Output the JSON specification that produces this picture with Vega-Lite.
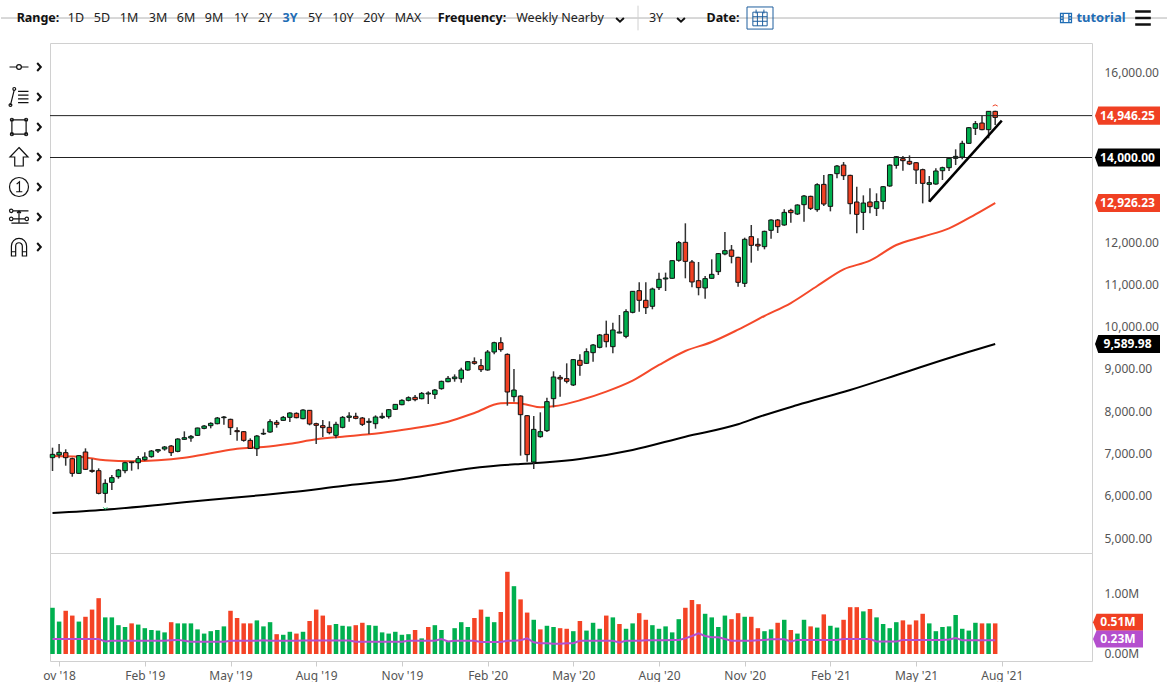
{
"$schema":"https://vega.github.io/schema/vega-lite/v6.json",
"background":"white",
"padding":{"left":0,"top":3,"right":0,"bottom":0},
"bounds":"flush",
"spacing":0,
"config":{"font":"Noto Sans","view":{"stroke":"#d0d0d0"},"axis":{"grid":false,"domain":false,"ticks":false,"title":null,"labelColor":"#555555","labelFontSize":12}},
"datasets":{
"candles":[
{"date":"2018-10-29","open":6904,"high":7140,"low":6588,"close":6982,"volume":0.77,"volumeDir":"up","volumeMa":0.25},
{"date":"2018-11-05","open":6967,"high":7227,"low":6888,"close":7030,"volume":0.54,"volumeDir":"up","volumeMa":0.25},
{"date":"2018-11-12","open":7022,"high":7101,"low":6714,"close":6904,"volume":0.72,"volumeDir":"down","volumeMa":0.25},
{"date":"2018-11-19","open":6880,"high":6904,"low":6454,"close":6533,"volume":0.64,"volumeDir":"down","volumeMa":0.25},
{"date":"2018-11-26","open":6533,"high":6967,"low":6517,"close":6951,"volume":0.54,"volumeDir":"up","volumeMa":0.25},
{"date":"2018-12-03","open":7038,"high":7124,"low":6612,"close":6628,"volume":0.62,"volumeDir":"down","volumeMa":0.25},
{"date":"2018-12-10","open":6604,"high":6880,"low":6549,"close":6580,"volume":0.74,"volumeDir":"down","volumeMa":0.25},
{"date":"2018-12-17","open":6596,"high":6651,"low":6037,"close":6060,"volume":0.93,"volumeDir":"down","volumeMa":0.25},
{"date":"2018-12-24","open":6060,"high":6391,"low":5840,"close":6297,"volume":0.61,"volumeDir":"up","volumeMa":0.21},
{"date":"2018-12-31","open":6320,"high":6494,"low":6139,"close":6431,"volume":0.61,"volumeDir":"up","volumeMa":0.22},
{"date":"2019-01-07","open":6454,"high":6636,"low":6407,"close":6612,"volume":0.48,"volumeDir":"up","volumeMa":0.22},
{"date":"2019-01-14","open":6596,"high":6809,"low":6533,"close":6785,"volume":0.45,"volumeDir":"up","volumeMa":0.22},
{"date":"2019-01-21","open":6785,"high":6809,"low":6596,"close":6801,"volume":0.51,"volumeDir":"down","volumeMa":0.22},
{"date":"2019-01-28","open":6785,"high":6943,"low":6628,"close":6880,"volume":0.49,"volumeDir":"up","volumeMa":0.22},
{"date":"2019-02-04","open":6856,"high":7030,"low":6833,"close":6919,"volume":0.43,"volumeDir":"up","volumeMa":0.22},
{"date":"2019-02-11","open":6927,"high":7085,"low":6904,"close":7061,"volume":0.40,"volumeDir":"up","volumeMa":0.22},
{"date":"2019-02-18","open":7061,"high":7108,"low":7014,"close":7093,"volume":0.39,"volumeDir":"up","volumeMa":0.22},
{"date":"2019-02-25","open":7108,"high":7179,"low":7069,"close":7156,"volume":0.36,"volumeDir":"up","volumeMa":0.22},
{"date":"2019-03-04","open":7179,"high":7203,"low":6943,"close":7022,"volume":0.53,"volumeDir":"down","volumeMa":0.23},
{"date":"2019-03-11","open":7053,"high":7361,"low":7030,"close":7345,"volume":0.51,"volumeDir":"up","volumeMa":0.235},
{"date":"2019-03-18","open":7337,"high":7526,"low":7321,"close":7376,"volume":0.51,"volumeDir":"up","volumeMa":0.22},
{"date":"2019-03-25","open":7368,"high":7440,"low":7282,"close":7408,"volume":0.51,"volumeDir":"up","volumeMa":0.205},
{"date":"2019-04-01","open":7431,"high":7613,"low":7416,"close":7605,"volume":0.41,"volumeDir":"up","volumeMa":0.205},
{"date":"2019-04-08","open":7597,"high":7676,"low":7574,"close":7652,"volume":0.34,"volumeDir":"up","volumeMa":0.205},
{"date":"2019-04-15","open":7660,"high":7739,"low":7597,"close":7715,"volume":0.38,"volumeDir":"up","volumeMa":0.205},
{"date":"2019-04-22","open":7707,"high":7865,"low":7692,"close":7841,"volume":0.40,"volumeDir":"up","volumeMa":0.205},
{"date":"2019-04-29","open":7849,"high":7888,"low":7684,"close":7865,"volume":0.46,"volumeDir":"up","volumeMa":0.205},
{"date":"2019-05-06","open":7810,"high":7825,"low":7439,"close":7613,"volume":0.72,"volumeDir":"down","volumeMa":0.22},
{"date":"2019-05-13","open":7542,"high":7621,"low":7305,"close":7518,"volume":0.60,"volumeDir":"down","volumeMa":0.22},
{"date":"2019-05-20","open":7518,"high":7534,"low":7282,"close":7313,"volume":0.51,"volumeDir":"down","volumeMa":0.22},
{"date":"2019-05-27","open":7313,"high":7361,"low":7108,"close":7124,"volume":0.51,"volumeDir":"down","volumeMa":0.22},
{"date":"2019-06-03","open":7116,"high":7440,"low":6943,"close":7416,"volume":0.56,"volumeDir":"up","volumeMa":0.22},
{"date":"2019-06-10","open":7463,"high":7589,"low":7440,"close":7479,"volume":0.46,"volumeDir":"up","volumeMa":0.23},
{"date":"2019-06-17","open":7510,"high":7810,"low":7495,"close":7755,"volume":0.53,"volumeDir":"up","volumeMa":0.22},
{"date":"2019-06-24","open":7739,"high":7794,"low":7613,"close":7692,"volume":0.33,"volumeDir":"down","volumeMa":0.22},
{"date":"2019-07-01","open":7786,"high":7888,"low":7778,"close":7857,"volume":0.32,"volumeDir":"up","volumeMa":0.22},
{"date":"2019-07-08","open":7857,"high":7975,"low":7747,"close":7960,"volume":0.37,"volumeDir":"up","volumeMa":0.22},
{"date":"2019-07-15","open":7952,"high":7975,"low":7834,"close":7849,"volume":0.34,"volumeDir":"down","volumeMa":0.22},
{"date":"2019-07-22","open":7825,"high":8046,"low":7810,"close":8030,"volume":0.37,"volumeDir":"up","volumeMa":0.225},
{"date":"2019-07-29","open":8023,"high":8030,"low":7668,"close":7700,"volume":0.55,"volumeDir":"down","volumeMa":0.225},
{"date":"2019-08-05","open":7707,"high":7731,"low":7227,"close":7668,"volume":0.74,"volumeDir":"down","volumeMa":0.225},
{"date":"2019-08-12","open":7660,"high":7794,"low":7392,"close":7613,"volume":0.64,"volumeDir":"down","volumeMa":0.225},
{"date":"2019-08-19","open":7621,"high":7763,"low":7455,"close":7495,"volume":0.48,"volumeDir":"down","volumeMa":0.225},
{"date":"2019-08-26","open":7431,"high":7755,"low":7361,"close":7692,"volume":0.50,"volumeDir":"up","volumeMa":0.225},
{"date":"2019-09-02","open":7621,"high":7888,"low":7597,"close":7857,"volume":0.47,"volumeDir":"up","volumeMa":0.225},
{"date":"2019-09-09","open":7857,"high":7975,"low":7755,"close":7888,"volume":0.46,"volumeDir":"up","volumeMa":0.225},
{"date":"2019-09-16","open":7881,"high":7967,"low":7810,"close":7834,"volume":0.48,"volumeDir":"down","volumeMa":0.205},
{"date":"2019-09-23","open":7841,"high":7865,"low":7652,"close":7692,"volume":0.52,"volumeDir":"down","volumeMa":0.205},
{"date":"2019-09-30","open":7739,"high":7833,"low":7463,"close":7763,"volume":0.48,"volumeDir":"up","volumeMa":0.205},
{"date":"2019-10-07","open":7707,"high":7904,"low":7589,"close":7865,"volume":0.47,"volumeDir":"up","volumeMa":0.205},
{"date":"2019-10-14","open":7849,"high":7967,"low":7818,"close":7881,"volume":0.36,"volumeDir":"up","volumeMa":0.205},
{"date":"2019-10-21","open":7873,"high":8054,"low":7826,"close":8038,"volume":0.34,"volumeDir":"up","volumeMa":0.205},
{"date":"2019-10-28","open":8046,"high":8172,"low":8030,"close":8164,"volume":0.37,"volumeDir":"up","volumeMa":0.205},
{"date":"2019-11-04","open":8156,"high":8283,"low":8141,"close":8259,"volume":0.32,"volumeDir":"up","volumeMa":0.205},
{"date":"2019-11-11","open":8259,"high":8354,"low":8235,"close":8322,"volume":0.33,"volumeDir":"up","volumeMa":0.22},
{"date":"2019-11-18","open":8330,"high":8385,"low":8235,"close":8275,"volume":0.40,"volumeDir":"down","volumeMa":0.22},
{"date":"2019-11-25","open":8298,"high":8456,"low":8283,"close":8424,"volume":0.26,"volumeDir":"up","volumeMa":0.22},
{"date":"2019-12-02","open":8409,"high":8472,"low":8172,"close":8432,"volume":0.45,"volumeDir":"down","volumeMa":0.22},
{"date":"2019-12-09","open":8401,"high":8527,"low":8290,"close":8503,"volume":0.48,"volumeDir":"up","volumeMa":0.22},
{"date":"2019-12-16","open":8535,"high":8724,"low":8511,"close":8708,"volume":0.40,"volumeDir":"up","volumeMa":0.25},
{"date":"2019-12-23","open":8700,"high":8834,"low":8684,"close":8779,"volume":0.21,"volumeDir":"up","volumeMa":0.21},
{"date":"2019-12-30","open":8771,"high":8873,"low":8700,"close":8810,"volume":0.43,"volumeDir":"up","volumeMa":0.22},
{"date":"2020-01-06","open":8771,"high":9031,"low":8677,"close":8976,"volume":0.53,"volumeDir":"up","volumeMa":0.22},
{"date":"2020-01-13","open":8976,"high":9189,"low":8960,"close":9173,"volume":0.45,"volumeDir":"up","volumeMa":0.22},
{"date":"2020-01-20","open":9173,"high":9275,"low":9102,"close":9134,"volume":0.60,"volumeDir":"down","volumeMa":0.22},
{"date":"2020-01-27","open":9079,"high":9236,"low":8929,"close":8984,"volume":0.74,"volumeDir":"down","volumeMa":0.2},
{"date":"2020-02-03","open":8976,"high":9449,"low":8960,"close":9402,"volume":0.62,"volumeDir":"up","volumeMa":0.2},
{"date":"2020-02-10","open":9402,"high":9646,"low":9346,"close":9622,"volume":0.53,"volumeDir":"up","volumeMa":0.2},
{"date":"2020-02-17","open":9622,"high":9748,"low":9410,"close":9457,"volume":0.70,"volumeDir":"down","volumeMa":0.2},
{"date":"2020-02-24","open":9346,"high":9370,"low":8133,"close":8456,"volume":1.37,"volumeDir":"down","volumeMa":0.22},
{"date":"2020-03-02","open":8346,"high":8999,"low":8228,"close":8503,"volume":1.13,"volumeDir":"up","volumeMa":0.22},
{"date":"2020-03-09","open":8361,"high":8377,"low":6951,"close":7920,"volume":0.91,"volumeDir":"down","volumeMa":0.23},
{"date":"2020-03-16","open":7896,"high":7912,"low":6809,"close":6975,"volume":0.69,"volumeDir":"down","volumeMa":0.26},
{"date":"2020-03-23","open":6801,"high":7888,"low":6636,"close":7573,"volume":0.57,"volumeDir":"up","volumeMa":0.195},
{"date":"2020-03-30","open":7400,"high":7975,"low":7376,"close":7518,"volume":0.41,"volumeDir":"down","volumeMa":0.18},
{"date":"2020-04-06","open":7542,"high":8322,"low":7510,"close":8228,"volume":0.47,"volumeDir":"up","volumeMa":0.18},
{"date":"2020-04-13","open":8299,"high":8945,"low":8094,"close":8811,"volume":0.45,"volumeDir":"up","volumeMa":0.17},
{"date":"2020-04-20","open":8803,"high":8858,"low":8346,"close":8764,"volume":0.43,"volumeDir":"down","volumeMa":0.17},
{"date":"2020-04-27","open":8772,"high":9134,"low":8661,"close":8709,"volume":0.42,"volumeDir":"down","volumeMa":0.18},
{"date":"2020-05-04","open":8622,"high":9237,"low":8598,"close":9221,"volume":0.38,"volumeDir":"up","volumeMa":0.18},
{"date":"2020-05-11","open":9205,"high":9347,"low":8843,"close":9087,"volume":0.55,"volumeDir":"down","volumeMa":0.22},
{"date":"2020-05-18","open":9134,"high":9489,"low":9118,"close":9410,"volume":0.39,"volumeDir":"up","volumeMa":0.22},
{"date":"2020-05-25","open":9386,"high":9591,"low":9174,"close":9568,"volume":0.52,"volumeDir":"up","volumeMa":0.22},
{"date":"2020-06-01","open":9512,"high":9828,"low":9489,"close":9804,"volume":0.42,"volumeDir":"up","volumeMa":0.22},
{"date":"2020-06-08","open":9820,"high":10143,"low":9512,"close":9646,"volume":0.64,"volumeDir":"down","volumeMa":0.22},
{"date":"2020-06-15","open":9528,"high":10096,"low":9371,"close":9922,"volume":0.61,"volumeDir":"up","volumeMa":0.22},
{"date":"2020-06-22","open":9851,"high":10277,"low":9843,"close":9875,"volume":0.50,"volumeDir":"down","volumeMa":0.19},
{"date":"2020-06-29","open":9772,"high":10411,"low":9725,"close":10356,"volume":0.42,"volumeDir":"up","volumeMa":0.22},
{"date":"2020-07-06","open":10340,"high":10844,"low":10316,"close":10836,"volume":0.51,"volumeDir":"up","volumeMa":0.22},
{"date":"2020-07-13","open":10852,"high":11049,"low":10356,"close":10624,"volume":0.68,"volumeDir":"down","volumeMa":0.22},
{"date":"2020-07-20","open":10624,"high":11049,"low":10300,"close":10450,"volume":0.57,"volumeDir":"down","volumeMa":0.23},
{"date":"2020-07-27","open":10482,"high":10923,"low":10411,"close":10891,"volume":0.48,"volumeDir":"up","volumeMa":0.23},
{"date":"2020-08-03","open":10923,"high":11278,"low":10868,"close":11120,"volume":0.42,"volumeDir":"up","volumeMa":0.23},
{"date":"2020-08-10","open":11128,"high":11278,"low":10844,"close":11152,"volume":0.46,"volumeDir":"up","volumeMa":0.23},
{"date":"2020-08-17","open":11144,"high":11569,"low":11136,"close":11561,"volume":0.36,"volumeDir":"up","volumeMa":0.235},
{"date":"2020-08-24","open":11569,"high":12026,"low":11538,"close":11987,"volume":0.58,"volumeDir":"up","volumeMa":0.235},
{"date":"2020-08-31","open":11995,"high":12444,"low":11144,"close":11545,"volume":0.77,"volumeDir":"down","volumeMa":0.26},
{"date":"2020-09-07","open":11530,"high":11577,"low":10931,"close":11057,"volume":0.90,"volumeDir":"down","volumeMa":0.30},
{"date":"2020-09-14","open":11088,"high":11530,"low":10742,"close":10923,"volume":0.83,"volumeDir":"down","volumeMa":0.345},
{"date":"2020-09-21","open":10915,"high":11199,"low":10663,"close":11136,"volume":0.67,"volumeDir":"up","volumeMa":0.30},
{"date":"2020-09-28","open":11144,"high":11593,"low":11136,"close":11238,"volume":0.61,"volumeDir":"up","volumeMa":0.28},
{"date":"2020-10-05","open":11301,"high":11743,"low":11222,"close":11727,"volume":0.45,"volumeDir":"up","volumeMa":0.28},
{"date":"2020-10-12","open":11719,"high":12239,"low":11687,"close":11798,"volume":0.64,"volumeDir":"up","volumeMa":0.25},
{"date":"2020-10-19","open":11813,"high":11932,"low":11498,"close":11664,"volume":0.58,"volumeDir":"down","volumeMa":0.22},
{"date":"2020-10-26","open":11640,"high":11656,"low":10947,"close":11049,"volume":0.68,"volumeDir":"down","volumeMa":0.22},
{"date":"2020-11-02","open":11025,"high":12105,"low":10939,"close":12066,"volume":0.62,"volumeDir":"up","volumeMa":0.22},
{"date":"2020-11-09","open":12129,"high":12404,"low":11514,"close":11924,"volume":0.62,"volumeDir":"down","volumeMa":0.22},
{"date":"2020-11-16","open":11947,"high":12089,"low":11798,"close":11908,"volume":0.43,"volumeDir":"down","volumeMa":0.23},
{"date":"2020-11-23","open":11892,"high":12270,"low":11829,"close":12254,"volume":0.38,"volumeDir":"up","volumeMa":0.235},
{"date":"2020-11-30","open":12278,"high":12538,"low":12081,"close":12522,"volume":0.41,"volumeDir":"up","volumeMa":0.245},
{"date":"2020-12-07","open":12522,"high":12546,"low":12215,"close":12365,"volume":0.52,"volumeDir":"down","volumeMa":0.245},
{"date":"2020-12-14","open":12404,"high":12774,"low":12388,"close":12703,"volume":0.57,"volumeDir":"up","volumeMa":0.245},
{"date":"2020-12-21","open":12751,"high":12790,"low":12459,"close":12696,"volume":0.40,"volumeDir":"down","volumeMa":0.21},
{"date":"2020-12-28","open":12664,"high":12893,"low":12640,"close":12877,"volume":0.34,"volumeDir":"up","volumeMa":0.235},
{"date":"2021-01-04","open":12885,"high":13113,"low":12483,"close":13090,"volume":0.57,"volumeDir":"up","volumeMa":0.235},
{"date":"2021-01-11","open":13082,"high":13097,"low":12759,"close":12798,"volume":0.46,"volumeDir":"down","volumeMa":0.235},
{"date":"2021-01-18","open":12767,"high":13389,"low":12719,"close":13357,"volume":0.44,"volumeDir":"up","volumeMa":0.235},
{"date":"2021-01-25","open":13365,"high":13586,"low":12853,"close":12900,"volume":0.66,"volumeDir":"down","volumeMa":0.235},
{"date":"2021-02-01","open":12845,"high":13610,"low":12727,"close":13594,"volume":0.47,"volumeDir":"up","volumeMa":0.235},
{"date":"2021-02-08","open":13618,"high":13822,"low":13507,"close":13799,"volume":0.44,"volumeDir":"up","volumeMa":0.235},
{"date":"2021-02-15","open":13822,"high":13893,"low":13468,"close":13570,"volume":0.57,"volumeDir":"down","volumeMa":0.25},
{"date":"2021-02-22","open":13578,"high":13594,"low":12656,"close":12908,"volume":0.78,"volumeDir":"down","volumeMa":0.25},
{"date":"2021-03-01","open":12948,"high":13310,"low":12207,"close":12656,"volume":0.78,"volumeDir":"down","volumeMa":0.25},
{"date":"2021-03-08","open":12703,"high":13105,"low":12286,"close":12924,"volume":0.71,"volumeDir":"up","volumeMa":0.25},
{"date":"2021-03-15","open":12948,"high":13271,"low":12680,"close":12837,"volume":0.75,"volumeDir":"down","volumeMa":0.25},
{"date":"2021-03-22","open":12798,"high":13153,"low":12617,"close":12956,"volume":0.61,"volumeDir":"up","volumeMa":0.21},
{"date":"2021-03-29","open":12963,"high":13326,"low":12774,"close":13310,"volume":0.50,"volumeDir":"up","volumeMa":0.21},
{"date":"2021-04-05","open":13326,"high":13838,"low":13310,"close":13822,"volume":0.43,"volumeDir":"up","volumeMa":0.21},
{"date":"2021-04-12","open":13814,"high":14035,"low":13736,"close":14019,"volume":0.53,"volumeDir":"up","volumeMa":0.21},
{"date":"2021-04-19","open":13972,"high":14035,"low":13688,"close":13925,"volume":0.56,"volumeDir":"down","volumeMa":0.235},
{"date":"2021-04-26","open":13909,"high":14051,"low":13822,"close":13846,"volume":0.49,"volumeDir":"down","volumeMa":0.235},
{"date":"2021-05-03","open":13877,"high":13893,"low":13373,"close":13704,"volume":0.56,"volumeDir":"down","volumeMa":0.235},
{"date":"2021-05-10","open":13712,"high":13736,"low":12916,"close":13389,"volume":0.67,"volumeDir":"down","volumeMa":0.235},
{"date":"2021-05-17","open":13365,"high":13562,"low":12948,"close":13405,"volume":0.51,"volumeDir":"up","volumeMa":0.235},
{"date":"2021-05-24","open":13373,"high":13744,"low":13357,"close":13681,"volume":0.38,"volumeDir":"up","volumeMa":0.235},
{"date":"2021-05-31","open":13688,"high":13783,"low":13468,"close":13759,"volume":0.45,"volumeDir":"up","volumeMa":0.235},
{"date":"2021-06-07","open":13759,"high":14004,"low":13681,"close":13980,"volume":0.46,"volumeDir":"up","volumeMa":0.24},
{"date":"2021-06-14","open":13980,"high":14193,"low":13822,"close":14027,"volume":0.65,"volumeDir":"up","volumeMa":0.265},
{"date":"2021-06-21","open":14011,"high":14398,"low":13956,"close":14335,"volume":0.42,"volumeDir":"up","volumeMa":0.23},
{"date":"2021-06-28","open":14335,"high":14721,"low":14319,"close":14705,"volume":0.39,"volumeDir":"up","volumeMa":0.23},
{"date":"2021-07-05","open":14689,"high":14863,"low":14532,"close":14800,"volume":0.52,"volumeDir":"up","volumeMa":0.23},
{"date":"2021-07-12","open":14815,"high":14989,"low":14642,"close":14658,"volume":0.51,"volumeDir":"down","volumeMa":0.23},
{"date":"2021-07-19","open":14658,"high":15099,"low":14453,"close":15091,"volume":0.51,"volumeDir":"up","volumeMa":0.23},
{"date":"2021-07-26","open":15091,"high":15107,"low":14768,"close":14949,"volume":0.51,"volumeDir":"down","volumeMa":0.23}
],
"movingAverages":[
{"date":"2018-10-29","series":"short","value":6943},{"date":"2018-11-26","series":"short","value":6927},{"date":"2018-12-24","series":"short","value":6841},{"date":"2019-01-21","series":"short","value":6817},{"date":"2019-02-18","series":"short","value":6841},{"date":"2019-03-18","series":"short","value":6904},{"date":"2019-04-15","series":"short","value":7006},{"date":"2019-05-13","series":"short","value":7116},{"date":"2019-06-10","series":"short","value":7156},{"date":"2019-07-08","series":"short","value":7234},{"date":"2019-08-05","series":"short","value":7337},{"date":"2019-09-02","series":"short","value":7400},{"date":"2019-09-30","series":"short","value":7455},{"date":"2019-10-28","series":"short","value":7534},{"date":"2019-11-25","series":"short","value":7629},{"date":"2019-12-23","series":"short","value":7755},{"date":"2020-01-20","series":"short","value":7960},{"date":"2020-02-17","series":"short","value":8188},{"date":"2020-03-02","series":"short","value":8196},{"date":"2020-03-16","series":"short","value":8157},{"date":"2020-03-30","series":"short","value":8094},{"date":"2020-04-13","series":"short","value":8118},{"date":"2020-05-11","series":"short","value":8260},{"date":"2020-06-08","series":"short","value":8464},{"date":"2020-07-06","series":"short","value":8724},{"date":"2020-08-03","series":"short","value":9095},{"date":"2020-08-31","series":"short","value":9426},{"date":"2020-09-28","series":"short","value":9639},{"date":"2020-10-26","series":"short","value":9930},{"date":"2020-11-23","series":"short","value":10253},{"date":"2020-12-21","series":"short","value":10560},{"date":"2021-01-18","series":"short","value":10962},{"date":"2021-02-15","series":"short","value":11356},{"date":"2021-03-15","series":"short","value":11561},{"date":"2021-04-12","series":"short","value":11931},{"date":"2021-05-10","series":"short","value":12128},{"date":"2021-06-07","series":"short","value":12325},{"date":"2021-07-05","series":"short","value":12656},{"date":"2021-07-26","series":"short","value":12926},
{"date":"2018-10-29","series":"long","value":5596},{"date":"2018-12-24","series":"long","value":5674},{"date":"2019-02-18","series":"long","value":5785},{"date":"2019-04-15","series":"long","value":5911},{"date":"2019-06-10","series":"long","value":6021},{"date":"2019-07-08","series":"long","value":6084},{"date":"2019-09-02","series":"long","value":6234},{"date":"2019-11-04","series":"long","value":6391},{"date":"2019-12-30","series":"long","value":6596},{"date":"2020-02-17","series":"long","value":6722},{"date":"2020-03-09","series":"long","value":6754},{"date":"2020-04-06","series":"long","value":6794},{"date":"2020-05-11","series":"long","value":6873},{"date":"2020-07-06","series":"long","value":7085},{"date":"2020-08-31","series":"long","value":7400},{"date":"2020-10-26","series":"long","value":7692},{"date":"2020-11-16","series":"long","value":7858},{"date":"2020-12-28","series":"long","value":8149},{"date":"2021-02-22","series":"long","value":8504},{"date":"2021-04-19","series":"long","value":8906},{"date":"2021-06-07","series":"long","value":9260},{"date":"2021-07-26","series":"long","value":9590}
],
"priceTags":[
{"label":"14,946.25","price":14990,"series":"last"},
{"label":"14,000.00","price":14000,"series":"level"},
{"label":"12,926.23","price":12926,"series":"last"},
{"label":"9,589.98","price":9590,"series":"level"}
],
"volumeTags":[
{"label":"0.51M","volume":0.53,"series":"volume"},
{"label":"0.23M","volume":0.25,"series":"average"}
]
},
"vconcat":[
{
"width":1042,"height":510,
"resolve":{"scale":{"x":"independent","y":"independent","color":"independent"}},
"layer":[
{"layer":[
{"data":{"name":"movingAverages"},"mark":{"type":"line","strokeWidth":2,"interpolate":"monotone"},
"encoding":{
"x":{"field":"date","type":"temporal","scale":{"type":"utc","nice":false,"padding":0,"domain":["2018-10-26T08:00:00Z","2021-11-05T19:00:00Z"]},"axis":null},
"y":{"field":"value","type":"quantitative","scale":{"nice":false,"domain":[4650,16707]},"axis":{"orient":"right","values":[5000,6000,7000,8000,9000,10000,11000,12000,16000],"format":",.2f","labelAlign":"left","labelPadding":12}},
"color":{"field":"series","type":"nominal","scale":{"domain":["short","long"],"range":["#f4492a","#000000"]},"legend":null}}},
{"data":{"name":"candles"},"mark":{"type":"rule","color":"#333333","strokeWidth":1.5},
"encoding":{"x":{"field":"date","type":"temporal","axis":null},"y":{"field":"low","type":"quantitative"},"y2":{"field":"high"}}},
{"data":{"name":"candles"},"mark":{"type":"bar","size":4.5,"stroke":"#111111","strokeWidth":1},
"encoding":{"x":{"field":"date","type":"temporal","axis":null},"y":{"field":"open","type":"quantitative"},"y2":{"field":"close"},
"color":{"condition":{"test":"datum.close>=datum.open","value":"#00b04f"},"value":"#f04023"}}},
{"data":{"values":[{"level":14990},{"level":14000}]},"mark":{"type":"rule","color":"#222222","strokeWidth":1},
"encoding":{"y":{"field":"level","type":"quantitative"}}},
{"data":{"values":[{"date":"2021-05-17","price":12955},{"date":"2021-08-02","price":14870}]},"mark":{"type":"line","color":"#000000","strokeWidth":2.5},
"encoding":{"x":{"field":"date","type":"temporal","axis":null},"y":{"field":"price","type":"quantitative"}}},
{"data":{"values":[{"date":"2021-07-26","price":15240}]},"mark":{"type":"point","shape":"M-1,0.4 Q0,-0.6 1,0.4","size":25,"color":"#f04023","filled":false,"strokeWidth":1,"opacity":1},
"encoding":{"x":{"field":"date","type":"temporal","axis":null},"y":{"field":"price","type":"quantitative"}}},
{"data":{"values":[{"date":"2018-12-24","price":5706}]},"mark":{"type":"point","shape":"M-1,-0.5 L0,0.5 L1,-0.5","size":16,"color":"#00b04f","filled":false,"strokeWidth":1,"opacity":1},
"encoding":{"x":{"field":"date","type":"temporal","axis":null},"y":{"field":"price","type":"quantitative"}}}
]},
{"data":{"name":"priceTags"},
"encoding":{
"x":{"datum":0.5,"type":"quantitative","scale":{"domain":[0,1],"range":[1045,1110]},"axis":null},
"y":{"field":"price","type":"quantitative","scale":{"nice":false,"domain":[4650,16707]},"axis":null}},
"layer":[
{"mark":{"type":"point","filled":true,"opacity":1,"size":4225,"shape":"M-1,0 L-0.9,-0.277 L1,-0.277 L1,0.277 L-0.9,0.277 Z"},
"encoding":{"color":{"field":"series","type":"nominal","scale":{"domain":["last","level"],"range":["#f04023","#000000"]},"legend":null}}},
{"mark":{"type":"text","color":"white","fontWeight":"bold","fontSize":12},"encoding":{"text":{"field":"label"}}}
]},
{"encoding":{
"x":{"field":"order","type":"quantitative","axis":null,"scale":{"nice":false,"zero":false,
"domain":[-1,0,1,2,3,4,5,6,7,8,9,10,11,12,13,14,15,16,17,18,19,20,21,22,23,24,25],
"range":[-49,-12,26,52,79,108,136,164,191,215,240,265,293,324,358,422,510,570,588,606,631,673,710,1016,1051,1093,1117]}},
"y":{"datum":0.46,"type":"quantitative","axis":null,"scale":{"domain":[0,1],"range":[-42,-5]}}},
"layer":[
{"data":{"values":[{"edge":0,"order":-1,"end":25},{"edge":1,"order":-1,"end":25}]},"mark":{"type":"rule","color":"#cccccc","strokeWidth":1},
"encoding":{"y":{"field":"edge","type":"quantitative","axis":null},"x2":{"field":"end"}}},
{"data":{"values":[{"item":"Range:","order":0},{"item":"Frequency:","order":14},{"item":"Date:","order":20}]},"mark":{"type":"text","fontWeight":"bold","fontSize":12.5,"color":"#111111"},"encoding":{"text":{"field":"item"}}},
{"data":{"values":[{"item":"1D","order":1},{"item":"5D","order":2},{"item":"1M","order":3},{"item":"3M","order":4},{"item":"6M","order":5},{"item":"9M","order":6},{"item":"1Y","order":7},{"item":"2Y","order":8},{"item":"5Y","order":10},{"item":"10Y","order":11},{"item":"20Y","order":12},{"item":"MAX","order":13},{"item":"Weekly Nearby","order":15},{"item":"3Y","order":18}]},"mark":{"type":"text","fontSize":12.5,"color":"#222222"},"encoding":{"text":{"field":"item"}}},
{"data":{"values":[{"item":"3Y","order":9}]},"mark":{"type":"text","fontWeight":"bold","fontSize":12.5,"color":"#1f6db5"},"encoding":{"text":{"field":"item"}}},
{"data":{"values":[{"item":"tutorial","order":23}]},"mark":{"type":"text","fontWeight":"bold","fontSize":13,"color":"#1f6db5"},"encoding":{"text":{"field":"item"}}},
{"data":{"values":[{"order":16},{"order":19}]},"mark":{"type":"point","filled":false,"opacity":1,"color":"#111111","strokeWidth":2,"size":676,"shape":"M-0.3,0 L0,0.28 L0.3,0"}},
{"data":{"values":[{"order":17}]},"mark":{"type":"point","filled":false,"opacity":1,"color":"#d0d0d0","strokeWidth":1,"size":676,"shape":"M0,-0.95 V0.95"}},
{"data":{"values":[{"order":24}]},"mark":{"type":"point","filled":false,"opacity":1,"color":"#111111","strokeWidth":2.5,"size":676,"shape":"M-0.6,-0.5 H0.6 M-0.6,0 H0.6 M-0.6,0.5 H0.6"}},
{"data":{"values":[{"order":21}]},"mark":{"type":"point","filled":false,"opacity":1,"color":"#1f5f9e","strokeWidth":1,"size":676,"shape":"M-1,-0.85 H1 V0.85 H-1 Z M-0.55,-0.45 H0.55 V0.6 H-0.55 Z M-0.55,-0.1 H0.55 M-0.55,0.25 H0.55 M-0.2,-0.45 V0.6 M0.2,-0.45 V0.6 M-0.3,-0.65 V-0.35 M0.3,-0.65 V-0.35"}},
{"data":{"values":[{"order":22}]},"mark":{"type":"point","filled":false,"opacity":1,"color":"#1f6db5","strokeWidth":1.3,"size":676,"shape":"M-0.42,-0.36 H0.42 V0.36 H-0.42 Z M-0.22,-0.36 V0.36 M0.22,-0.36 V0.36 M-0.42,-0.1 H-0.22 M-0.42,0.1 H-0.22 M0.22,-0.1 H0.42 M0.22,0.1 H0.42"}}
]},
{"data":{"values":[{"tool":"line"},{"tool":"fibonacci"},{"tool":"shape"},{"tool":"arrow"},{"tool":"counter"},{"tool":"fork"},{"tool":"magnet"}]},
"encoding":{
"y":{"field":"tool","type":"nominal","axis":null,"scale":{"type":"point","padding":0,"domain":["line","fibonacci","shape","arrow","counter","fork","magnet"],"range":[24,204]}}},
"layer":[
{"mark":{"type":"point","filled":false,"opacity":1,"color":"#111111","strokeWidth":1.2,"size":360},
"encoding":{
"x":{"datum":0.38,"type":"quantitative","axis":null,"scale":{"domain":[0,1],"range":[-50,0]}},
"shape":{"field":"tool","type":"nominal","legend":null,"scale":{"domain":["line","fibonacci","shape","arrow","counter","fork","magnet"],"range":[
"M-1,0 L-0.25,0 M0.25,0 L1,0 M-0.25,0 A0.25,0.25 0 1 1 0.25,0 A0.25,0.25 0 1 1 -0.25,0",
"M-0.9,0.85 L-0.5,-0.75 M-0.1,-0.6 L1,-0.6 M-0.1,-0.2 L1,-0.2 M-0.1,0.2 L1,0.2 M-0.1,0.6 L1,0.6 M-0.9,0.7 A0.15,0.15 0 1 1 -0.9,1 A0.15,0.15 0 1 1 -0.9,0.7 M-0.5,-1 A0.15,0.15 0 1 1 -0.5,-0.7 A0.15,0.15 0 1 1 -0.5,-1",
"M-0.75,-0.75 H0.75 V0.75 H-0.75 Z M-0.75,-0.92 A0.16,0.16 0 1 1 -0.75,-0.6 A0.16,0.16 0 1 1 -0.75,-0.92 M0.75,-0.92 A0.16,0.16 0 1 1 0.75,-0.6 A0.16,0.16 0 1 1 0.75,-0.92 M-0.75,0.6 A0.16,0.16 0 1 1 -0.75,0.92 A0.16,0.16 0 1 1 -0.75,0.6 M0.75,0.6 A0.16,0.16 0 1 1 0.75,0.92 A0.16,0.16 0 1 1 0.75,0.6",
"M0,-1 L0.95,0 L0.45,0 L0.45,0.95 L-0.45,0.95 L-0.45,0 L-0.95,0 Z",
"M-1,0 A1,1 0 1 1 1,0 A1,1 0 1 1 -1,0 M-0.25,-0.3 L0.05,-0.55 L0.05,0.5 M-0.3,0.5 L0.35,0.5",
"M-0.6,-0.65 H1 M-1,-0.65 A0.18,0.18 0 1 1 -0.64,-0.65 A0.18,0.18 0 1 1 -1,-0.65 M-0.6,0.2 H0.6 M-1,0.2 A0.18,0.18 0 1 1 -0.64,0.2 A0.18,0.18 0 1 1 -1,0.2 M0.64,0.2 A0.18,0.18 0 1 1 1,0.2 A0.18,0.18 0 1 1 0.64,0.2 M-0.8,0.65 H1 M0,-0.65 V0.65 M-0.2,-0.4 L0,-0.65 L0.2,-0.4",
"M-0.8,0.95 L-0.8,-0.1 A0.8,0.8 0 0 1 0.8,-0.1 L0.8,0.95 L0.35,0.95 L0.35,-0.1 A0.35,0.35 0 0 0 -0.35,-0.1 L-0.35,0.95 Z M-0.8,0.5 L-0.35,0.5 M0.35,0.5 L0.8,0.5"
]}}}},
{"mark":{"type":"point","filled":false,"opacity":1,"color":"#111111","strokeWidth":2,"size":64,"shape":"M-0.45,-1 L0.45,0 L-0.45,1"},
"encoding":{"x":{"datum":0.78,"type":"quantitative","axis":null}}}
]}
]
},
{
"width":1042,"height":108,
"resolve":{"scale":{"x":"independent","y":"independent","color":"independent"}},
"layer":[
{"layer":[
{"data":{"name":"candles"},"mark":{"type":"bar","size":4.5},
"encoding":{
"x":{"field":"date","type":"temporal","scale":{"type":"utc","nice":false,"padding":0,"domain":["2018-10-26T08:00:00Z","2021-11-05T19:00:00Z"]},
"axis":{"values":["2018-11-05","2019-02-04","2019-05-06","2019-08-05","2019-11-04","2020-02-03","2020-05-04","2020-08-03","2020-11-02","2021-02-01","2021-05-03","2021-08-02"],
"labelExpr":"datum.index===0 ? \"ov '18\" : utcFormat(datum.value,\"%b '%y\")","ticks":true,"tickColor":"#cccccc","tickSize":5,"labelPadding":4,"labelOverlap":false,"labelFlush":false}},
"y":{"field":"volume","type":"quantitative","scale":{"nice":false,"domain":[-0.117,1.683]},
"axis":{"orient":"right","values":[0,1],"labelExpr":"format(datum.value,'.2f')+'M'","labelAlign":"left","labelPadding":12}},
"color":{"field":"volumeDir","type":"nominal","scale":{"domain":["up","down"],"range":["#00b04f","#f44325"]},"legend":null}}},
{"data":{"name":"candles"},"mark":{"type":"line","color":"#b44fce","strokeWidth":2},
"encoding":{"x":{"field":"date","type":"temporal"},"y":{"field":"volumeMa","type":"quantitative"}}}
]},
{"data":{"name":"volumeTags"},
"encoding":{
"x":{"datum":0.5,"type":"quantitative","scale":{"domain":[0,1],"range":[1043,1093]},"axis":null},
"y":{"field":"volume","type":"quantitative","scale":{"nice":false,"domain":[-0.117,1.683]},"axis":null}},
"layer":[
{"mark":{"type":"point","filled":true,"opacity":1,"size":2500,"shape":"M-1,0 L-0.86,-0.34 L1,-0.34 L1,0.34 L-0.86,0.34 Z"},
"encoding":{"color":{"field":"series","type":"nominal","scale":{"domain":["volume","average"],"range":["#f04023","#b44fce"]},"legend":null}}},
{"mark":{"type":"text","color":"white","fontWeight":"bold","fontSize":12},"encoding":{"text":{"field":"label"}}}
]}
]
}
]
}
